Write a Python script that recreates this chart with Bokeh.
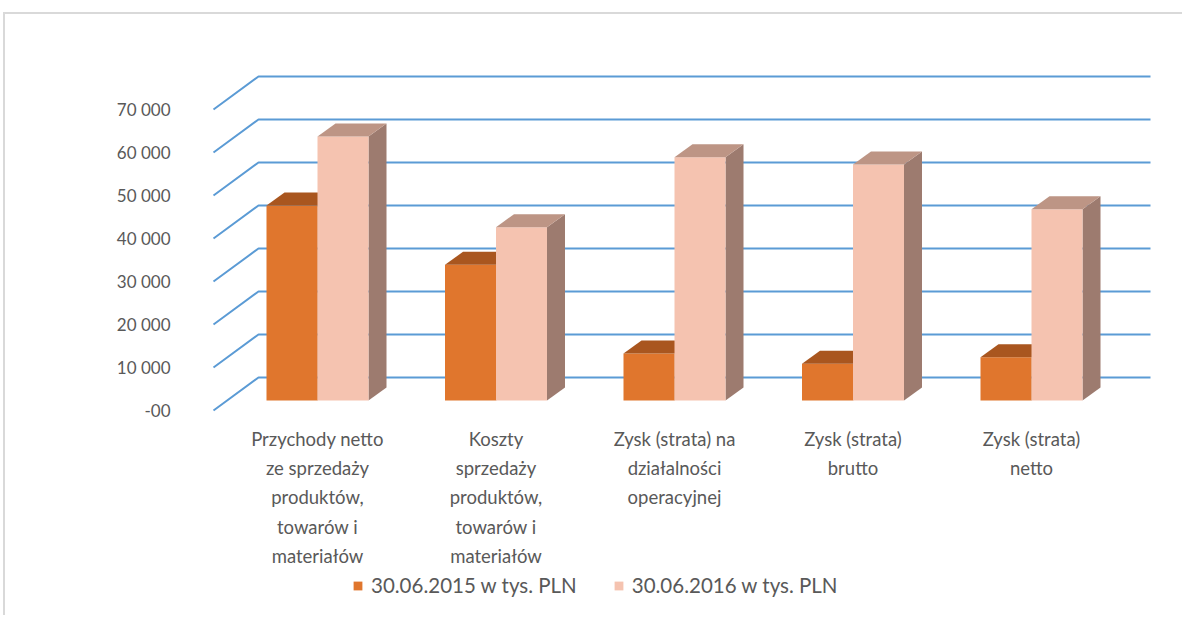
from bokeh.plotting import figure
from bokeh.models import Range1d, LinearAxis, FixedTicker, Legend, LegendItem
from bokeh.core.properties import value
from bokeh.embed import file_html
from bokeh.resources import INLINE

categories = [
    "Przychody netto\nze sprzedaży\nproduktów,\ntowarów i\nmateriałów",
    "Koszty\nsprzedaży\nproduktów,\ntowarów i\nmateriałów",
    "Zysk (strata) na\ndziałalności\noperacyjnej",
    "Zysk (strata)\nbrutto",
    "Zysk (strata)\nnetto",
]
series_names = ["30.06.2015 w tys. PLN", "30.06.2016 w tys. PLN"]
values_2015 = [45350, 31560, 10930, 8530, 10070]
values_2016 = [61400, 40300, 56580, 54880, 44490]
y_ticks = [0, 10000, 20000, 30000, 40000, 50000, 60000, 70000]
y_tick_labels = ["-00", "10 000", "20 000", "30 000", "40 000", "50 000", "60 000", "70 000"]

FONT = "Lato"
TXT = "#595959"
GRID = "#5b9bd5"
ORANGE = ("#e0762d", "#a9561f", "#a9561f")
PINK = ("#f5c3b0", "#bd9585", "#9d7b6f")

# pixel geometry helpers (layout only)
PX_X = 178.5          # px per category
PX_Y = 43 / 10000.0   # px per value unit
W = 51 / PX_X         # bar width
DX = 18 / PX_X        # bar depth x
DY = 13 / PX_Y        # bar depth y
FRONT_X = (213 - 317) / PX_X
WALL_DX = 45 / PX_X
FRONT_DY = -10 / PX_Y
WALL_DY = 23 / PX_Y
RIGHT_X = (1150 - 317) / PX_X

x_lo = (207 - 317) / PX_X
x_hi = (1176 - 317) / PX_X
y_hi = (400 - 28) / PX_Y
y_lo = -(600 - 400) / PX_Y

p = figure(width=1179, height=603, output_backend="svg", toolbar_location=None,
           x_range=Range1d(x_lo, x_hi), y_range=Range1d(y_lo, y_hi),
           min_border_left=202, min_border_right=8, min_border_top=14, min_border_bottom=17)
p.xaxis.visible = False
p.yaxis.visible = False
p.xgrid.visible = False
p.ygrid.visible = False
p.outline_line_color = None
p.background_fill_color = "white"
p.styles = {"margin-top": "12px", "margin-left": "3px",
            "border-top": "2px solid #d9d9d9", "border-left": "2px solid #d9d9d9"}

# front-plane axis for tick labels
p.extra_y_ranges = {"front": Range1d(y_lo - FRONT_DY, y_hi - FRONT_DY)}
ax = LinearAxis(y_range_name="front", ticker=FixedTicker(ticks=y_ticks),
                major_label_overrides={t: l for t, l in zip(y_ticks, y_tick_labels)},
                axis_line_color=None, major_tick_line_color=None, minor_tick_line_color=None,
                major_tick_in=0, major_tick_out=0,
                major_label_text_font=FONT, major_label_text_font_size="17px",
                major_label_text_color=TXT, major_label_standoff=37)
p.add_layout(ax, "left")

# gridlines: diagonal from front then along back wall
gx, gy = [], []
for t in y_ticks:
    gx.append([FRONT_X, FRONT_X + WALL_DX, RIGHT_X])
    gy.append([t + FRONT_DY, t + WALL_DY, t + WALL_DY])
p.multi_line(gx, gy, line_color=GRID, line_width=2)

xs_idx = list(range(len(categories)))

def bars(vals, offset, cols):
    fx, fy, tx, ty, sx, sy = [], [], [], [], [], []
    for i, v in zip(xs_idx, vals):
        x0 = i + offset
        x1 = x0 + W
        fx.append([x0, x1, x1, x0]); fy.append([0, 0, v, v])
        tx.append([x0, x1, x1 + DX, x0 + DX]); ty.append([v, v, v + DY, v + DY])
        sx.append([x1, x1 + DX, x1 + DX, x1]); sy.append([0, DY, v + DY, v])
    p.patches(sx, sy, fill_color=cols[2], line_color=None)
    front = p.patches(fx, fy, fill_color=cols[0], line_color=None)
    p.patches(tx, ty, fill_color=cols[1], line_color=None)
    return front

r1 = bars(values_2015, -W, ORANGE)
r2 = bars(values_2016, 0, PINK)

# category labels
lab_y = (400 - 427) / PX_Y
p.text(x=xs_idx, y=[lab_y] * len(categories), text=categories,
       text_font=value(FONT), text_font_size="18.5px", text_color=TXT,
       text_align="center", text_baseline="top", text_line_height=1.34)

legend = Legend(items=[LegendItem(label=series_names[0], renderers=[r1]),
                       LegendItem(label=series_names[1], renderers=[r2])],
                orientation="horizontal", location=(145, 3),
                label_text_font=FONT, label_text_font_size="20.5px", label_text_color=TXT,
                glyph_width=11, glyph_height=11, label_standoff=8, spacing=36,
                background_fill_alpha=0, border_line_color=None, padding=4, margin=0)
p.add_layout(legend, "center")

open("out.html", "w").write(file_html(p, INLINE))
